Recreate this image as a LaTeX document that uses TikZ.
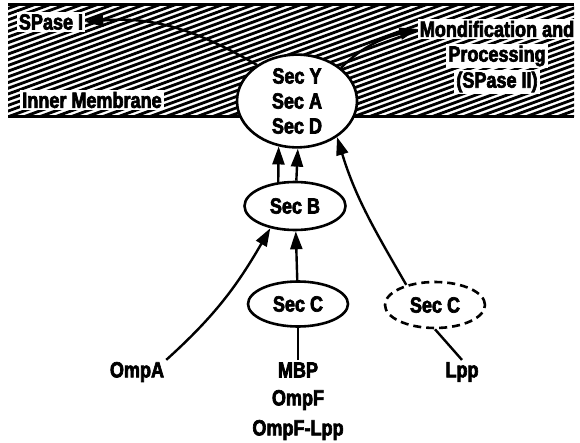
\documentclass[tikz,border=0pt]{standalone}
\usepackage{fontspec}
\setmainfont{Liberation Sans}[FakeStretch=0.82,FakeBold=3]
\usetikzlibrary{shapes.geometric,arrows.meta}

\begin{document}
\begin{tikzpicture}[x=1pt,y=-1pt,
    lab/.style={font=\fontsize{22}{25}\selectfont\bfseries, inner sep=2pt},
    knock/.style={lab, fill=white},
    sec/.style={lab, ellipse, draw, line width=2.6pt, fill=white, inner sep=0pt},
    arr/.style={line width=2.4pt, -{Triangle[length=18pt,width=12pt]}},
    link/.style={line width=2.4pt}]
    \useasboundingbox (0,0) rectangle (580,443);
    % membrane
    \begin{scope}
      \clip (8,5) rectangle (574,117);
      \foreach \k in {0,...,62}
        \draw[line width=2.8pt] (0,\k*5.7) -- (600,\k*5.7-218);
    \end{scope}
    \draw[line width=3pt] (8,5) -- (574,5);
    \draw[line width=3pt] (8,117) -- (574,117);
    \node[knock] (spase1) at (51,22) {SPase I};
    \node[knock] (inner) at (92,100) {Inner Membrane};
    \node[knock] (modA) at (497,29) {Mondification and};
    \node[knock] (modB) at (497,56) {Processing};
    \node[knock] (modC) at (497,82) {(SPase II)};
    % sec proteins
    \node[sec, minimum width=120pt, minimum height=92pt, align=center] (secyad) at (297,101) {Sec Y\\Sec A\\Sec D};
    \node[sec, minimum width=101pt, minimum height=48pt] (secB) at (295,206) {Sec B};
    \node[sec, minimum width=100pt, minimum height=45pt] (secC) at (298,304) {Sec C};
    \node[sec, dashed, dash pattern=on 8pt off 5pt, minimum width=100pt, minimum height=46pt] (secCd) at (435,305) {Sec C};
    % precursors
    \node[lab] (ompA) at (137,372) {OmpA};
    \node[lab] (mbp) at (298,370) {MBP};
    \node[lab] (ompF) at (298,400) {OmpF};
    \node[lab] (ompFL) at (298,430) {OmpF-Lpp};
    \node[lab] (lpp) at (462,372) {Lpp};
    % connectors
    \draw[link] (mbp) -- (secC);
    \draw[arr] (secC) -- (secB);
    \draw[arr] (ompA.north east) to[out=42,in=240] (secB.222);
    \draw[arr] (secB.125) -- (secyad.248);
    \draw[arr] (secB.87) -- (secyad.271);
    \draw[link] (lpp.north) -- (secCd.south);
    \draw[arr] (secCd.145) to[out=120,in=-73] (secyad.318);
    \draw[arr] (secyad.138) to[out=150,in=5] (spase1.east);
    \draw[arr] (secyad.37) to[out=45,in=195] (modA.west);
\end{tikzpicture}
\end{document}
